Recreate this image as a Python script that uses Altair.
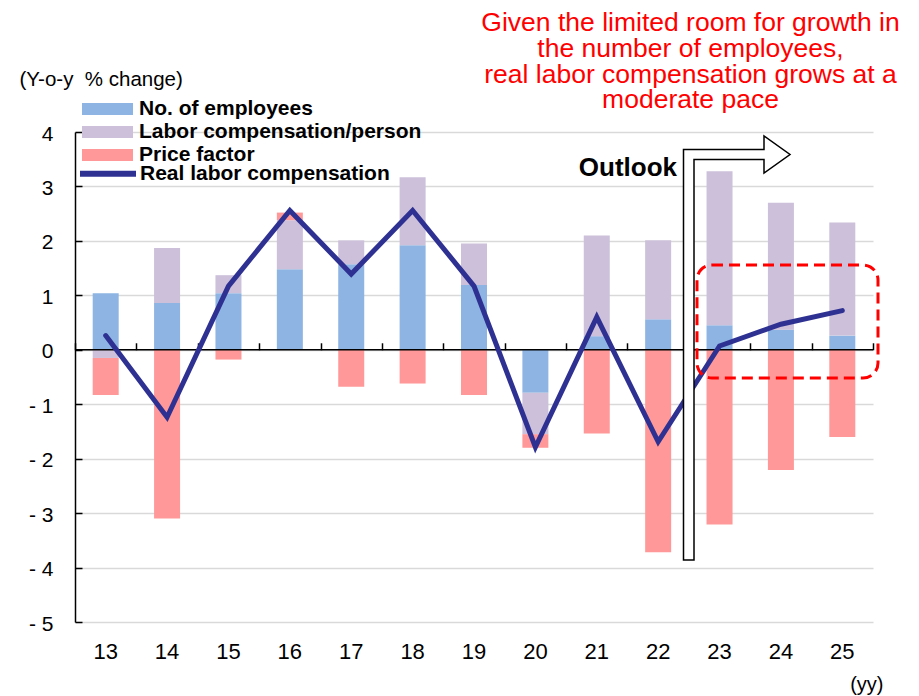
import altair as alt
import pandas as pd

# ---- data ----
years = ["13", "14", "15", "16", "17", "18", "19", "20", "21", "22", "23", "24", "25"]
employees = [1.04, 0.86, 1.04, 1.48, 1.57, 1.92, 1.19, -0.79, 0.25, 0.56, 0.45, 0.37, 0.26]
comp_per_person = [-0.15, 1.01, 0.33, 0.90, 0.44, 1.25, 0.76, -0.76, 1.85, 1.45, 2.83, 2.33, 2.08]
price_factor = [-0.68, -3.10, -0.18, 0.14, -0.68, -0.62, -0.83, -0.25, -1.54, -3.72, -3.21, -2.21, -1.60]
real_comp = [0.26, -1.24, 1.17, 2.56, 1.39, 2.56, 1.17, -1.79, 0.60, -1.69, 0.07, 0.47, 0.72]

components = ["No. of employees", "Labor compensation/person", "Price factor"]
comp_colors = ["#8DB4E2", "#CCC0DA", "#FF9999"]
line_name = "Real labor compensation"
line_color = "#2E3192"
y_ticks = [-5, -4, -3, -2, -1, 0, 1, 2, 3, 4]
note_lines = [
    "Given the limited room for growth in",
    "the number of employees,",
    "real labor compensation grows at a",
    "moderate pace",
]

rows = []
for i, y in enumerate(years):
    for j, (name, vals) in enumerate(zip(components, [employees, comp_per_person, price_factor])):
        rows.append({"year": y, "component": name, "order": j, "value": vals[i]})
bars_df = pd.DataFrame(rows)
line_df = pd.DataFrame({"year": years, "real": real_comp, "series": [line_name] * len(years)})
one = pd.DataFrame({"k": [0], "zero": [0.0]})

W, H = 798, 490
ZERO_PX = 4 / 9 * H
FONT = "Liberation Sans"

xscale = alt.Scale(paddingInner=0, paddingOuter=0)
yscale = alt.Scale(domain=[-5, 4], nice=False, zero=False)

bars = alt.Chart(bars_df).mark_bar(size=26).encode(
    x=alt.X("year:N", sort=years, scale=xscale,
            axis=alt.Axis(orient="bottom", domain=False, ticks=False, grid=False,
                          labelAngle=0, labelFontSize=22, labelPadding=19, labelColor="black",
                          title="(yy)", titleX=808, titleY=68, titleAlign="right",
                          titleBaseline="alphabetic", titleFontSize=20, titleFontWeight="normal",
                          titleColor="black")),
    y=alt.Y("value:Q", stack="zero", scale=yscale,
            axis=alt.Axis(values=y_ticks, domain=False, ticks=False, grid=True,
                          gridColor="#D9D9D9", gridWidth=1.5,
                          labelExpr="datum.value < 0 ? '- ' + (-datum.value) : datum.label",
                          labelFontSize=21, labelPadding=22, labelColor="black", labelOffset=2,
                          title="(Y-o-y\u00a0 % change)", titleAngle=0, titleX=-56, titleY=-47,
                          titleAlign="left", titleBaseline="alphabetic", titleFontSize=20.5,
                          titleFontWeight="normal", titleColor="black")),
    color=alt.Color("component:N", sort=components,
                    scale=alt.Scale(domain=components, range=comp_colors),
                    legend=alt.Legend(orient="none", legendX=7, legendY=-33, direction="vertical",
                                      title=None, symbolType="M-1,-0.24H1V0.24H-1Z",
                                      symbolSize=2601, symbolStrokeWidth=0, labelFontSize=21,
                                      labelFontWeight="bold", labelColor="black", labelOffset=6,
                                      clipHeight=20, rowPadding=2, padding=0, labelLimit=0)),
    order=alt.Order("order:Q"),
)

zero_rule = alt.Chart(one).mark_rule(color="black", strokeWidth=1.5).encode(
    y=alt.Y("zero:Q", axis=None)
)

line = alt.Chart(line_df).mark_line(strokeWidth=5, strokeJoin="miter", strokeCap="round").encode(
    x=alt.X("year:N", sort=years,
            axis=alt.Axis(orient="top", offset=-ZERO_PX, labels=False, domain=False, ticks=True,
                          tickBand="extent", tickSize=7, tickColor="black", tickWidth=1.5,
                          grid=False, title=None)),
    y=alt.Y("real:Q",
            axis=alt.Axis(orient="right", offset=-W, labels=False, grid=False, values=y_ticks,
                          tickSize=7, tickColor="black", tickWidth=1.5, domainColor="black",
                          domainWidth=1.5, title=None)),
    stroke=alt.Stroke("series:N", scale=alt.Scale(domain=[line_name], range=[line_color]),
                      legend=alt.Legend(orient="none", legendX=2, legendY=31.7, title=None,
                                        symbolType="stroke", symbolSize=3136,
                                        symbolStrokeWidth=6, labelFontSize=21,
                                        labelFontWeight="bold", labelColor="black",
                                        labelOffset=1, clipHeight=20, padding=0, labelLimit=0)),
)

box = alt.Chart(one).mark_rect(fillOpacity=0, stroke="#FF0000", strokeWidth=3,
                               strokeDash=[11, 6], cornerRadius=15).encode(
    x=alt.value(622), x2=alt.value(803), y=alt.value(133), y2=alt.value(246)
)

arrow = alt.Chart(one).mark_point(
    shape="M608.5,428V17.5H689V4L715,22.5L689,41V27.5H619V428Z",
    size=4, filled=True, fill="white", stroke="black", strokeWidth=1.5, opacity=1,
).encode(x=alt.value(0), y=alt.value(0))

outlook = alt.Chart(one).mark_text(align="right", baseline="alphabetic", fontSize=26,
                                   fontWeight="bold", color="black").encode(
    text=alt.value("Outlook"), x=alt.value(602), y=alt.value(43.5)
)

note = alt.Chart(one).mark_text(align="center", baseline="alphabetic", fontSize=26.5,
                                lineHeight=25.8, color="#FF0000").encode(
    text=alt.value(note_lines), x=alt.value(615.5), y=alt.value(-101)
)

chart = alt.layer(bars, zero_rule, line, box, arrow, outlook, note).resolve_axis(
    x="independent", y="independent"
).properties(
    width=W, height=H,
    autosize=alt.AutoSizeParams(type="none"),
    padding={"left": 67, "top": 124, "right": 38, "bottom": 74},
).configure(font=FONT).configure_view(stroke=None)

chart.save("out.html", embed_options={"renderer": "svg", "actions": False})
